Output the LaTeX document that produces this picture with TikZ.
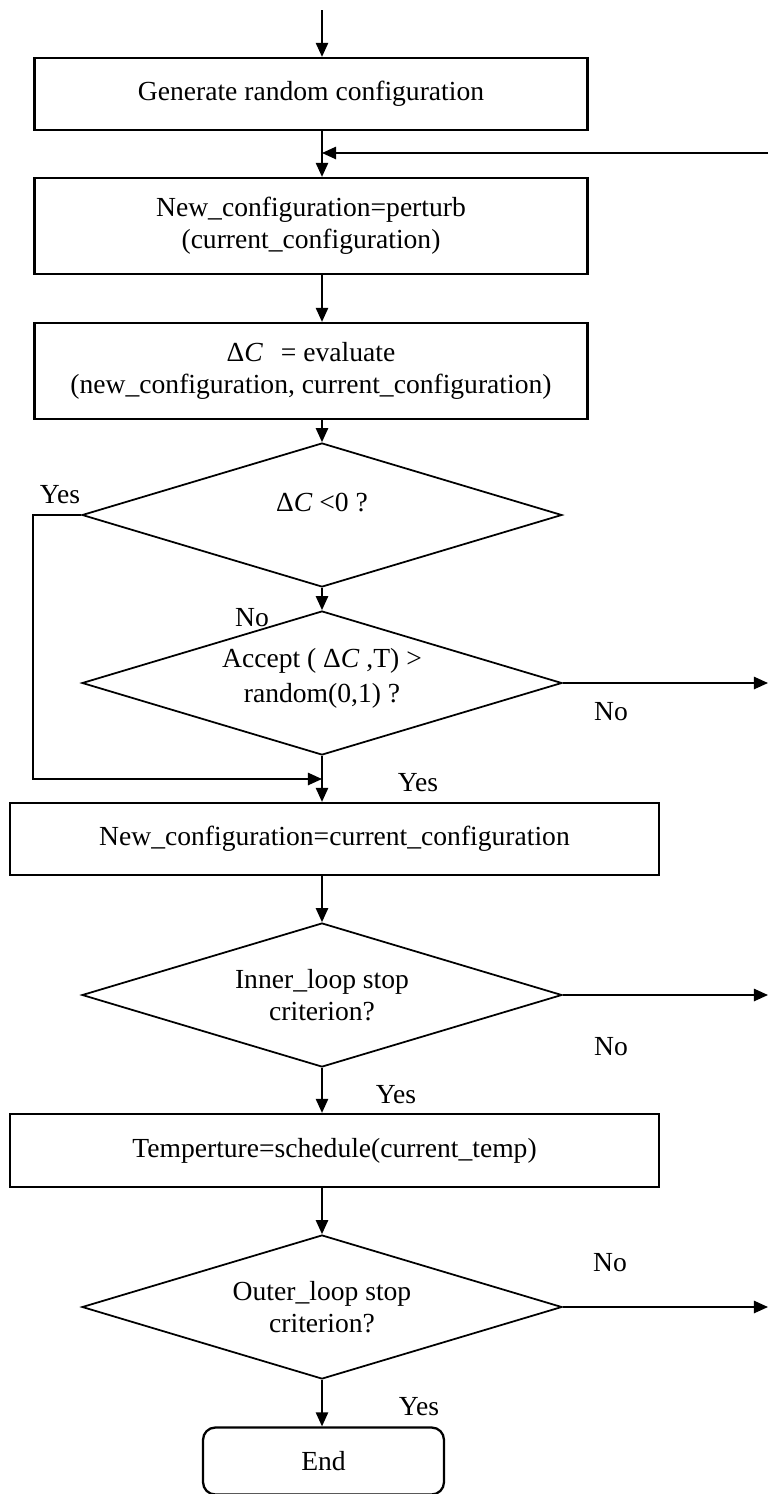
\documentclass[tikz,border=0pt]{standalone}
\usepackage{fontspec}
\setmainfont{Liberation Serif}
\usetikzlibrary{arrows.meta,positioning,shapes.geometric}

\tikzset{
  box/.style={draw, line width=1.3pt, minimum width=11.06cm, align=center, inner sep=2pt},
  widebox/.style={box, minimum width=12.98cm},
  dec/.style={draw, diamond, line width=1pt, aspect=3.33, minimum width=9.6cm,
    minimum height=2.88cm, inner sep=0pt, align=center},
  endbox/.style={draw, rounded corners=7pt, line width=1.3pt, minimum width=4.82cm,
    minimum height=1.34cm},
  arr/.style={-{Triangle[length=8pt,width=7pt]}, line width=1pt},
  lbl/.style={inner sep=0pt}
}

\begin{document}
\begin{tikzpicture}[x=0.02cm, y=-0.02cm, every node/.style={font=\fontsize{15.7}{18.5}\selectfont}]
    \useasboundingbox (0,0) rectangle (768,1494);

    % Main column
    \coordinate (start) at (322,10);
    \node[box, minimum height=1.44cm] (gen) at (311,94) {Generate random configuration};
    \node[box, minimum height=1.92cm] (pert) at (311,226) {New\_configuration=perturb\\(current\_configuration)};
    \node[box, minimum height=1.92cm] (eval) at (311,371) {Δ\textit{C}\hspace{0.4em} = evaluate\\(new\_configuration, current\_configuration)};
    \node[dec] (neg) at (322,515) {\raisebox{0.5cm}{Δ\textit{C} <0 ?}};
    \node[dec] (acc) at (322,683) {\raisebox{0.3cm}{\shortstack{Accept ( Δ\textit{C} ,T) >\\[3pt]random(0,1) ?}}};
    \node[widebox, minimum height=1.44cm] (keep) at (334.5,839) {New\_configuration=current\_configuration};
    \node[dec] (inner) at (322,995) {Inner\_loop stop\\criterion?};
    \node[widebox, minimum height=1.46cm] (temp) at (334.5,1150.5) {Temperture=schedule(current\_temp)};
    \node[dec] (outer) at (322,1307) {Outer\_loop stop\\criterion?};
    \node[endbox] (end) at (323.5,1461) {End};

    % Loop back and exits at the right edge
    \coordinate (back) at (768,153);
    \coordinate (join) at (322,779);

    % Labels
    \node[lbl] (yes1) at (60,495) {Yes};
    \node[lbl] (no1) at (252,618) {No};
    \node[lbl] (no2) at (611,712) {No};
    \node[lbl] (yes2) at (418,783) {Yes};
    \node[lbl] (no3) at (611,1047) {No};
    \node[lbl] (yes3) at (396,1095) {Yes};
    \node[lbl] (no4) at (610,1263) {No};
    \node[lbl] (yes4) at (419,1407) {Yes};

    % Connectors
    \draw[arr] (start) -- (gen.north -| start);
    \draw[arr] (gen.south -| start) -- (pert.north -| start);
    \draw[arr] (back) -- (back -| start);
    \draw[arr] (pert.south -| start) -- (eval.north -| start);
    \draw[arr] (eval.south -| start) -- (neg.north);
    \draw[arr] (neg.south) -- (acc.north);
    \draw[arr] (neg.west) -- ++(-48,0) |- (join);
    \draw[arr] (acc.south) -- (keep.north -| acc.south);
    \draw[arr] (acc.east) -- (acc.east -| back);
    \draw[arr] (keep.south -| inner.north) -- (inner.north);
    \draw[arr] (inner.east) -- (inner.east -| back);
    \draw[arr] (inner.south) -- (temp.north -| inner.south);
    \draw[arr] (temp.south -| outer.north) -- (outer.north);
    \draw[arr] (outer.east) -- (outer.east -| back);
    \draw[arr] (outer.south) -- (end.north -| outer.south);
\end{tikzpicture}
\end{document}
